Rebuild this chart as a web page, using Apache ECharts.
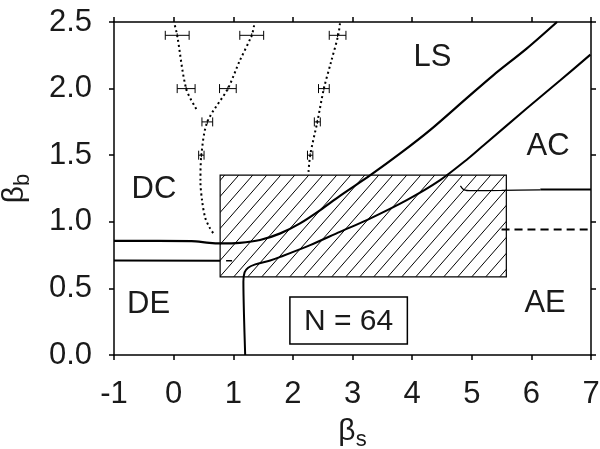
<html>
<head>
    <meta charset="utf-8">
    <title>beta_s - beta_b</title>
    <script src="https://cdn.jsdelivr.net/npm/echarts@6/dist/echarts.min.js"></script>
    <style>
        body { margin: 0; background: #fff; }
    </style>
</head>
<body>
    <div id="main" style="width:600px;height:449px"></div>
    <script>
        // boundary lines (beta_s, beta_b)
        var upperLine = [[-1, 0.857], [0.3, 0.855], [0.6, 0.842], [0.78, 0.838], [1.11, 0.842], [1.45, 0.863], [1.79, 0.913],
            [2.12, 0.988], [2.46, 1.088], [2.79, 1.195], [3.3, 1.35], [3.8, 1.513], [4.3, 1.688], [4.94, 1.938],
            [5.36, 2.10], [5.92, 2.30], [6.43, 2.50]]
        var lowerFlat = [[-1, 0.71], [0.78, 0.707]]
        var lowerDash = [[0.88, 0.707], [0.98, 0.707]]
        var acLine = [[1.20, 0], [1.18, 0.3], [1.17, 0.55], [1.19, 0.62], [1.25, 0.655], [1.37, 0.68], [1.62, 0.71],
            [1.79, 0.737], [2.29, 0.825], [2.79, 0.925], [3.24, 1.013], [3.91, 1.163], [4.47, 1.313], [4.94, 1.475],
            [5.20, 1.575], [5.92, 1.85], [6.48, 2.06], [6.99, 2.255]]
        var aeThin = [[4.81, 1.27], [4.87, 1.24], [5.0, 1.234], [5.5, 1.236], [6.15, 1.24]]
        var aeThick = [[6.15, 1.243], [7, 1.243]]
        var aeDashed = [[5.5, 0.943], [7, 0.943]]

        // dotted curves
        var dotA = [[0.02, 2.475], [0.06, 2.4], [0.21, 2.0], [0.39, 1.84]]
        var dotB = [[1.35, 2.475], [1.31, 2.4], [1.1, 2.2], [0.91, 2.0], [0.565, 1.75], [0.465, 1.5], [0.45, 1.3],
            [0.48, 1.15], [0.53, 1.03], [0.6, 0.96], [0.67, 0.91]]
        var dotC = [[2.79, 2.49], [2.76, 2.4], [2.64, 2.2], [2.52, 2.0], [2.41, 1.75], [2.29, 1.5], [2.26, 1.36]]

        // error bars: x, y, half width
        var errBars = [[0.06, 2.4, 0.2], [1.31, 2.4, 0.2], [2.75, 2.4, 0.14], [0.21, 2.0, 0.15], [0.91, 2.0, 0.14],
            [2.52, 2.0, 0.09], [0.565, 1.75, 0.09], [2.41, 1.75, 0.05], [0.465, 1.5, 0.045], [2.29, 1.5, 0.045]]

        // hatched region and N box: x0, y0, x1, y1
        var hatchRect = [[0.78, 0.587, 5.58, 1.35]]
        var nBox = [[1.95, 0.083, 3.92, 0.435, 'N = 64']]

        // region labels
        var regionLabels = [[4.34, 2.24, 'LS'], [6.28, 1.575, 'AC'], [-0.33, 1.25, 'DC'], [-0.42, 0.386, 'DE'], [6.23, 0.394, 'AE']]

        var FONT = 'Liberation Sans, Arial, sans-serif'
        var INK = '#1a1a1a'

        // hatch pattern
        var pat = document.createElement('canvas')
        pat.width = 14
        pat.height = 16
        var pc = pat.getContext('2d')
        pc.strokeStyle = '#000'
        pc.lineWidth = 1
        pc.beginPath()
        pc.moveTo(-1, 17.14); pc.lineTo(15, -1.14)
        pc.moveTo(-1, 1.14); pc.lineTo(1, -1.14)
        pc.moveTo(13, 17.14); pc.lineTo(15, 14.86)
        pc.stroke()

        function lineSeries(data, width, type) {
            return {
                type: 'line', data: data, showSymbol: false, symbol: 'none', smooth: 0.3,
                lineStyle: { color: '#000', width: width, type: type || 'solid' },
                z: 5, silent: true
            }
        }

        var axisCommon = {
            type: 'value',
            splitLine: { show: false },
            axisLine: { onZero: false, lineStyle: { color: '#000', width: 1.5 } },
            axisTick: { inside: false, length: 5, lineStyle: { color: '#000', width: 1.5 } },
        }
        var nameRich = {
            a: { fontSize: 30, color: INK, fontFamily: FONT },
            s: { fontSize: 22, color: INK, fontFamily: FONT, verticalAlign: 'bottom', padding: [16, 0, 0, 0] }
        }

        var chart = echarts.init(document.getElementById('main'))
        chart.setOption({
            backgroundColor: '#fff',
            animation: false,
            grid: { left: 114, right: 9, top: 22, bottom: 94, containLabel: false, outerBoundsMode: 'none' },
            xAxis: [
                Object.assign({}, axisCommon, {
                    min: -1, max: 7, interval: 1, position: 'bottom',
                    axisLabel: { fontSize: 31, color: INK, margin: 24, fontFamily: FONT },
                    name: '{a|β}{s|s}', nameLocation: 'middle', nameGap: 58,
                    nameTextStyle: { rich: nameRich }
                }),
                Object.assign({}, axisCommon, {
                    min: -1, max: 7, interval: 1, position: 'top', axisLabel: { show: false }
                })
            ],
            yAxis: [
                Object.assign({}, axisCommon, {
                    min: 0, max: 2.5, interval: 0.5, position: 'left',
                    axisLabel: { fontSize: 31, color: INK, margin: 22, fontFamily: FONT, formatter: v => v.toFixed(1) },
                    name: '{a|β}{s|b}', nameLocation: 'middle', nameGap: 80, nameRotate: 90,
                    nameTextStyle: { rich: nameRich }
                }),
                Object.assign({}, axisCommon, {
                    min: 0, max: 2.5, interval: 0.5, position: 'right', axisLabel: { show: false }
                })
            ],
            series: [
                {
                    type: 'custom', data: hatchRect, z: 1, silent: true,
                    renderItem: function (params, api) {
                        var p0 = api.coord([api.value(0), api.value(3)])
                        var p1 = api.coord([api.value(2), api.value(1)])
                        return {
                            type: 'rect',
                            shape: { x: p0[0], y: p0[1], width: p1[0] - p0[0], height: p1[1] - p0[1] },
                            style: { fill: { image: pat, repeat: 'repeat' }, stroke: '#000', lineWidth: 1.2 }
                        }
                    }
                },
                lineSeries(upperLine, 2.2),
                lineSeries(lowerFlat, 2),
                lineSeries(lowerDash, 1.5),
                lineSeries(acLine, 2),
                lineSeries(aeThin, 1.2),
                lineSeries(aeThick, 2),
                lineSeries(aeDashed, 2, [8, 5]),
                lineSeries(dotA, 2, [2, 3]),
                lineSeries(dotB, 2, [2, 3]),
                lineSeries(dotC, 2, [2, 3]),
                {
                    type: 'custom', data: errBars, z: 6, silent: true,
                    renderItem: function (params, api) {
                        var x = api.value(0), y = api.value(1), e = api.value(2)
                        var a = api.coord([x - e, y]), b = api.coord([x + e, y]), c = api.coord([x, y])
                        var st = { stroke: '#000', lineWidth: 1 }
                        var h = 4.5
                        return {
                            type: 'group', children: [
                                { type: 'line', shape: { x1: a[0], y1: a[1], x2: b[0], y2: b[1] }, style: st },
                                { type: 'line', shape: { x1: a[0], y1: a[1] - h, x2: a[0], y2: a[1] + h }, style: st },
                                { type: 'line', shape: { x1: b[0], y1: b[1] - h, x2: b[0], y2: b[1] + h }, style: st },
                                { type: 'line', shape: { x1: c[0], y1: c[1] - 2, x2: c[0], y2: c[1] + 2 }, style: st }
                            ]
                        }
                    }
                },
                {
                    type: 'custom', data: nBox, z: 8, silent: true,
                    renderItem: function (params, api) {
                        var p0 = api.coord([api.value(0), api.value(3)])
                        var p1 = api.coord([api.value(2), api.value(1)])
                        return {
                            type: 'group', children: [
                                {
                                    type: 'rect',
                                    shape: { x: p0[0], y: p0[1], width: p1[0] - p0[0], height: p1[1] - p0[1] },
                                    style: { fill: '#fff', stroke: '#000', lineWidth: 1.5 }
                                },
                                {
                                    type: 'text',
                                    x: (p0[0] + p1[0]) / 2, y: (p0[1] + p1[1]) / 2 + 1,
                                    style: { text: nBox[params.dataIndex][4], fontSize: 30, fontFamily: FONT, fill: INK, align: 'center', verticalAlign: 'middle' }
                                }
                            ]
                        }
                    }
                },
                {
                    type: 'custom', data: regionLabels, z: 8, silent: true,
                    renderItem: function (params, api) {
                        var p = api.coord([api.value(0), api.value(1)])
                        return {
                            type: 'text', x: p[0], y: p[1] + 1,
                            style: { text: regionLabels[params.dataIndex][2], fontSize: 31, fontFamily: FONT, fill: INK, align: 'center', verticalAlign: 'middle' }
                        }
                    }
                }
            ]
        })
    </script>
</body>
</html>
